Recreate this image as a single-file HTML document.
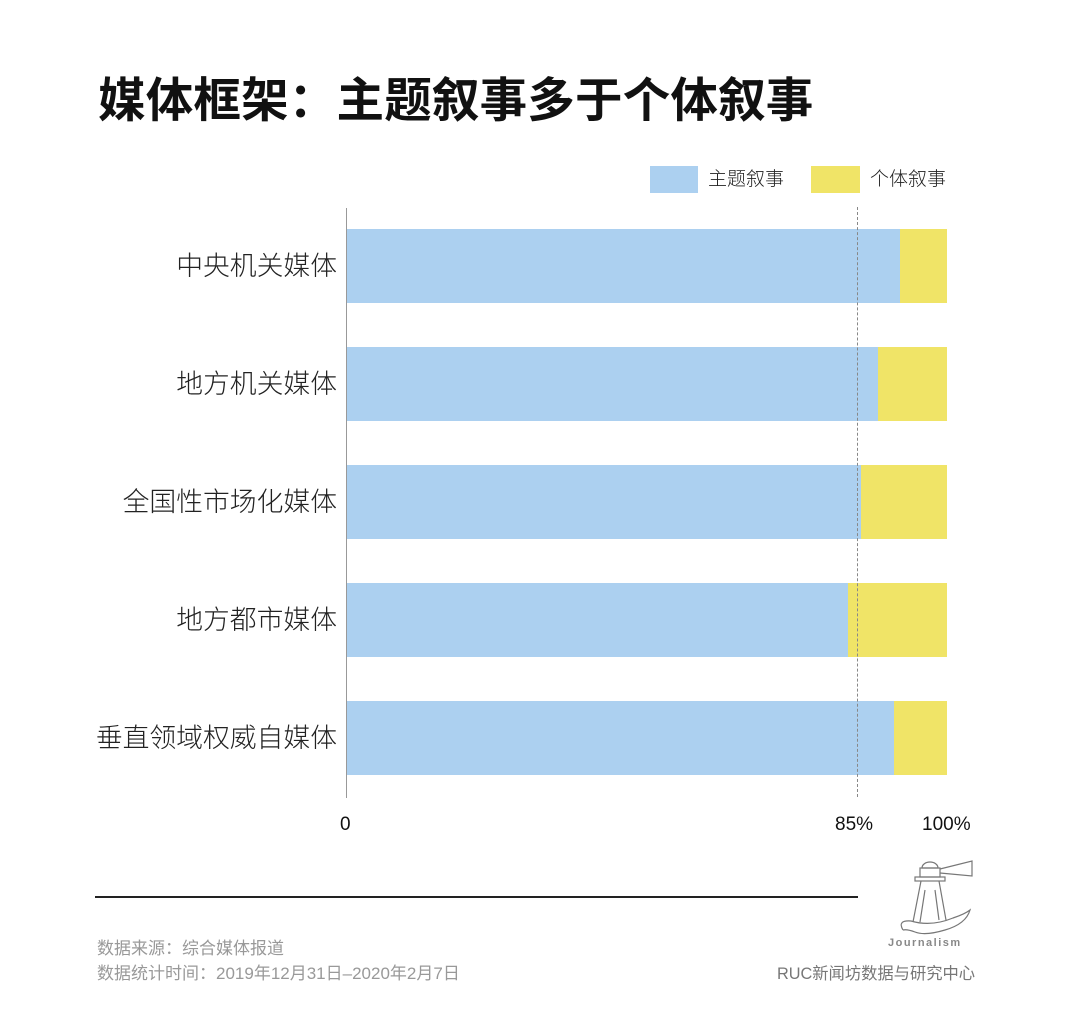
<!DOCTYPE html>
<html><head><meta charset="utf-8"><style>
body{margin:0;background:#fff;width:1080px;height:1030px;position:relative;overflow:hidden;font-family:"Liberation Sans","Noto Sans CJK SC",sans-serif;}
.a{position:absolute;white-space:nowrap;}
.t{left:98px;top:62px;font-size:47.5px;font-weight:bold;color:#111;letter-spacing:0.2px;}
.lab{right:743px;font-size:26.8px;color:#222;line-height:30px;font-weight:300;}
.bar{position:absolute;left:347px;height:74px;width:600px;background:#f0e467;}
.bar div{height:100%;background:#acd0f0;}
.leg{font-size:19px;color:#222;top:168px;line-height:24px;font-weight:300;}
.f{font-size:17px;color:#999;left:97px;}
</style></head><body>
<div class="a t">媒体框架：主题叙事多于个体叙事</div>
<div class="a" style="left:650px;top:166px;width:48px;height:27px;background:#acd0f0"></div>
<div class="a leg" style="left:708px">主题叙事</div>
<div class="a" style="left:811px;top:166px;width:49px;height:27px;background:#f0e467"></div>
<div class="a leg" style="left:870px">个体叙事</div>
<div class="a" style="left:346px;top:208px;width:1px;height:590px;background:#999"></div>
<div class="bar" style="top:229px"><div style="width:553px"></div></div>
<div class="bar" style="top:347px"><div style="width:531px"></div></div>
<div class="bar" style="top:465px"><div style="width:514px"></div></div>
<div class="bar" style="top:583px"><div style="width:501px"></div></div>
<div class="bar" style="top:701px"><div style="width:547px"></div></div>
<div class="a" style="left:857px;top:207px;height:590px;border-left:1px dashed #888"></div>
<div class="a lab" style="top:251px">中央机关媒体</div>
<div class="a lab" style="top:369px">地方机关媒体</div>
<div class="a lab" style="top:487px">全国性市场化媒体</div>
<div class="a lab" style="top:605px">地方都市媒体</div>
<div class="a lab" style="top:723px">垂直领域权威自媒体</div>
<div class="a" style="left:340px;top:814px;font-size:19px;color:#111">0</div>
<div class="a" style="left:835px;top:814px;font-size:19px;color:#111">85%</div>
<div class="a" style="left:922px;top:814px;font-size:19px;color:#111">100%</div>
<div class="a" style="left:95px;top:896px;width:763px;height:2px;background:#222"></div>
<div class="a f" style="top:934px">数据来源：综合媒体报道</div>
<div class="a f" style="top:959px">数据统计时间：2019年12月31日–2020年2月7日</div>
<svg class="a" style="left:895px;top:850px" width="90" height="105" viewBox="0 0 90 105" fill="none" stroke="#777" stroke-width="1.2">
<path d="M27 18 a8 6 0 0 1 16 0 z"/><rect x="25" y="18" width="20" height="9"/><rect x="20" y="27" width="30" height="4"/>
<path d="M45 19 L77 11 L77 26 L45 23"/><path d="M26 31 L18 72 M44 31 L51 70 M30 40 L25 72 M40 40 L44 70"/>
<path d="M8 80 q-6 -10 8 -9 q20 6 42 -3 q12 -4 17 -8 q-4 14 -25 20 q-20 6 -30 2 q-8 -3 -12 -2"/>
</svg>
<div class="a" style="left:888px;top:937px;font-size:11px;color:#888;font-weight:bold;letter-spacing:1.5px">Journalism</div>
<div class="a" style="left:777px;top:960px;font-size:16.3px;color:#777">RUC新闻坊数据与研究中心</div>
</body></html>
